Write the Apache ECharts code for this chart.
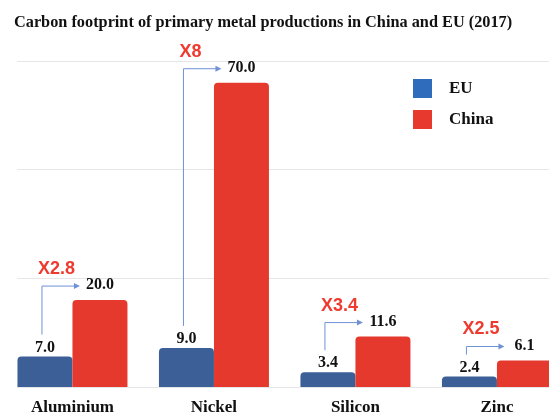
<!DOCTYPE html>
<html><head><meta charset="utf-8">
<script src="https://cdn.jsdelivr.net/npm/echarts@6/dist/echarts.min.js"></script>
<style>html,body{margin:0;padding:0;background:#fff}#c{width:549px;height:418px}</style>
</head><body><div id="c"></div>
<script>
const categories = ['Aluminium', 'Nickel', 'Silicon', 'Zinc'];
const euValues = [7.0, 9.0, 3.4, 2.4];
const chinaValues = [20.0, 70.0, 11.6, 6.1];
const ratioLabels = ['X2.8', 'X8', 'X3.4', 'X2.5'];
const yTicks = [0, 25, 50, 75];

const SERIF = '"Liberation Serif", "DejaVu Serif", serif';
const SANS = '"Liberation Sans", Arial, sans-serif';
const EU_COLOR = '#3b5f96';
const CN_COLOR = '#e6392e';
const BAR_W = 55;

const idx = categories.map((c, i) => i);

const chart = echarts.init(document.getElementById('c'));
chart.setOption({
  animation: false,
  title: {
    text: 'Carbon footprint of primary metal productions in China and EU (2017)',
    left: 9, top: 10,
    textStyle: { fontFamily: SERIF, fontSize: 16.3, fontWeight: 'bold', color: '#111' }
  },
  legend: {
    orient: 'vertical', left: 408, top: 74,
    itemWidth: 19, itemHeight: 19, itemGap: 12, icon: 'rect',
    data: [
      { name: 'EU', itemStyle: { color: '#2f6cbb' } },
      { name: 'China', itemStyle: { color: '#e8392e' } }
    ],
    textStyle: { fontFamily: SERIF, fontSize: 17, fontWeight: 'bold', color: '#111', padding: [0, 0, 0, 12] }
  },
  grid: { left: 17, right: 0, top: 61, bottom: 31 },
  xAxis: {
    type: 'value', min: -0.392, max: 3.368,
    splitLine: { show: false }, axisLine: { show: false }, axisTick: { show: false },
    axisLabel: {
      customValues: idx, formatter: v => categories[Math.round(v)] || '',
      fontFamily: SERIF, fontSize: 17, fontWeight: 'bold', color: '#111', margin: 12
    }
  },
  yAxis: {
    type: 'value', min: yTicks[0], max: yTicks[yTicks.length - 1], interval: 25,
    axisLine: { show: false }, axisTick: { show: false }, axisLabel: { show: false },
    splitLine: { show: true, lineStyle: { color: '#e6e6e6', width: 1 } }
  },
  series: [
    {
      name: 'EU', type: 'bar', data: idx.map(i => [i, euValues[i]]), barWidth: BAR_W, barGap: 0,
      itemStyle: { color: EU_COLOR, borderRadius: [4, 4, 0, 0] },
      label: { show: true, position: 'top', distance: 1, formatter: p => p.value[1].toFixed(1),
        fontFamily: SERIF, fontSize: 16, fontWeight: 'bold', color: '#111' }
    },
    {
      name: 'China', type: 'bar', data: idx.map(i => [i, chinaValues[i]]), barWidth: BAR_W, barGap: 0,
      itemStyle: { color: CN_COLOR, borderRadius: [4, 4, 0, 0] },
      label: { show: true, position: 'top', distance: 7, formatter: p => p.value[1].toFixed(1),
        fontFamily: SERIF, fontSize: 16, fontWeight: 'bold', color: '#111' }
    },
    {
      type: 'custom', silent: true, z: 5,
      data: idx.map(i => [i, euValues[i], chinaValues[i]]),
      renderItem: function (params, api) {
        const k = api.value(0);
        const base = api.coord([k, 0]);
        const euTop = api.coord([k, api.value(1)])[1];
        const cnTop = api.coord([k, api.value(2)])[1];
        const euX = base[0] - BAR_W / 2;
        const cnX = base[0] + BAR_W / 2;
        const vx = euX - 3;
        const y0 = euTop - 22;
        const hy = cnTop - 14;
        const ex = cnX - 20;
        const col = '#6f92d6';
        return {
          type: 'group',
          children: [
            { type: 'polyline', shape: { points: [[vx, y0], [vx, hy], [ex - 5, hy]] },
              style: { stroke: col, lineWidth: 1, fill: null } },
            { type: 'polygon', shape: { points: [[ex, hy], [ex - 6, hy - 3], [ex - 6, hy + 3]] },
              style: { fill: col } },
            { type: 'text', x: vx - 4, y: hy - 17,
              style: { text: ratioLabels[params.dataIndex], fill: '#ee3a2f', font: 'bold 18px ' + SANS,
                textAlign: 'left', textVerticalAlign: 'middle' } }
          ]
        };
      }
    }
  ]
});
</script></body></html>
